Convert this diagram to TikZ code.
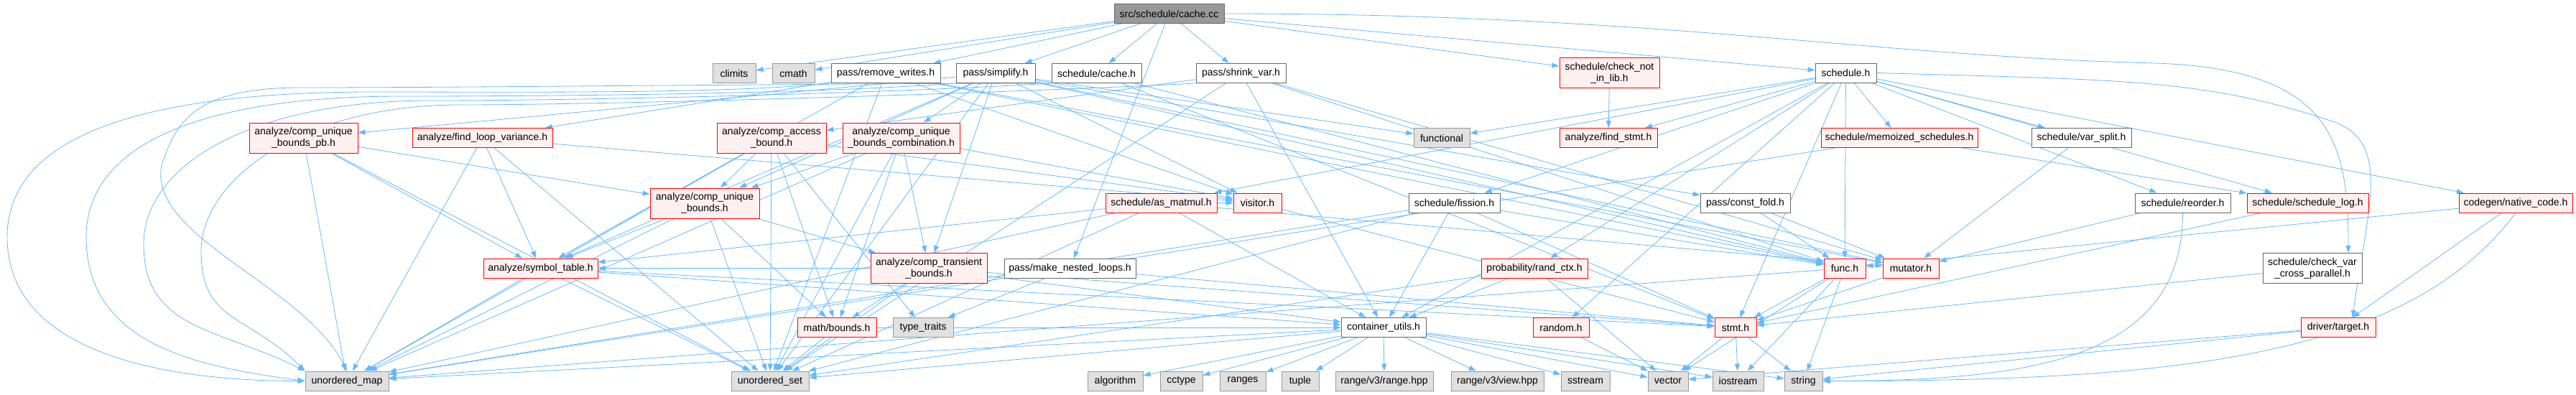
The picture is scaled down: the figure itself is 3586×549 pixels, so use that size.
\documentclass[tikz,border=0pt]{standalone}
\usepackage{fontspec}
\setmainfont{Liberation Sans}
\usetikzlibrary{arrows.meta}
\definecolor{edgecol}{HTML}{63B8FF}
\definecolor{sysfill}{HTML}{E0E0E0}
\definecolor{sysborder}{HTML}{999999}
\definecolor{wborder}{HTML}{666666}
\definecolor{rootfill}{HTML}{999999}
\definecolor{redfill}{HTML}{FFF0F0}
\definecolor{redborder}{HTML}{FF0000}
\pgfdeclarelayer{bg}
\pgfsetlayers{bg,main}
\tikzset{
  box/.style={rectangle, draw, line width=1pt, inner sep=1pt, minimum height=27pt, align=center, font=\fontsize{14}{16}\selectfont, text=black},
  sysbox/.style={box, draw=sysborder, fill=sysfill},
  whitebox/.style={box, draw=wborder, fill=white},
  redbox/.style={box, draw=redborder, fill=redfill},
  rootbox/.style={box, draw=wborder, fill=rootfill},
  tall/.style={minimum height=42pt},
  edge/.style={draw=edgecol, line width=0.8pt, -{Triangle[length=10pt,width=7pt]}},
}
\begin{document}
\begin{tikzpicture}[x=1pt,y=-1pt]
\useasboundingbox (0,0) rectangle (3586,549);
% row 0
\node[rootbox, minimum width=153pt] (root) at (1627.5,19) {src/schedule/cache.cc};
% row 1
\node[sysbox, minimum width=60pt] (climits) at (1022,102) {climits};
\node[sysbox, minimum width=59pt] (cmath) at (1104.5,102) {cmath};
\node[whitebox, minimum width=152pt] (rw) at (1233,102) {pass/remove\_writes.h};
\node[whitebox, minimum width=110pt] (simp) at (1386,102) {pass/simplify.h};
\node[whitebox, minimum width=125pt] (scache) at (1526.5,102) {schedule/cache.h};
\node[whitebox, minimum width=125pt] (shrink) at (1727.5,102) {pass/shrink\_var.h};
\node[redbox, tall, minimum width=139pt] (cnil) at (2240.5,101.5) {schedule/check\_not\\\_in\_lib.h};
\node[whitebox, minimum width=85pt] (sched) at (2569.5,101.5) {schedule.h};
% row 2
\node[redbox, tall, minimum width=151pt] (cubpb) at (422.5,192) {analyze/comp\_unique\\\_bounds\_pb.h};
\node[redbox, minimum width=195pt] (flv) at (671.5,192) {analyze/find\_loop\_variance.h};
\node[redbox, tall, minimum width=152pt] (compaccess) at (1074,192) {analyze/comp\_access\\\_bound.h};
\node[redbox, tall, minimum width=163pt] (cubcomb) at (1254.5,192) {analyze/comp\_unique\\\_bounds\_combination.h};
\node[sysbox, minimum width=78pt] (functional) at (2007,192) {functional};
\node[redbox, minimum width=136pt] (findstmt) at (2239,192) {analyze/find\_stmt.h};
\node[redbox, minimum width=218pt] (memo) at (2644,192) {schedule/memoized\_schedules.h};
\node[whitebox, minimum width=139pt] (varsplit) at (2897.5,192) {schedule/var\_split.h};
% row 3
\node[redbox, tall, minimum width=152pt] (cub) at (981,283) {analyze/comp\_unique\\\_bounds.h};
\node[redbox, minimum width=155pt] (asmatmul) at (1616.5,282.5) {schedule/as\_matmul.h};
\node[redbox, minimum width=67pt] (visitor) at (1750.5,282.5) {visitor.h};
\node[whitebox, minimum width=127pt] (fission) at (2024.5,282.5) {schedule/fission.h};
\node[whitebox, minimum width=125pt] (constfold) at (2429.5,282.5) {pass/const\_fold.h};
\node[whitebox, minimum width=133pt] (reorder) at (3038.5,282.5) {schedule/reorder.h};
\node[redbox, minimum width=169pt] (schedlog) at (3212.5,282.5) {schedule/schedule\_log.h};
\node[redbox, minimum width=158pt] (nativecode) at (3502,282.5) {codegen/native\_code.h};
% row 4
\node[redbox, minimum width=159pt] (symtab) at (752.5,373.5) {analyze/symbol\_table.h};
\node[redbox, tall, minimum width=162pt] (ctb) at (1293,373.5) {analyze/comp\_transient\\\_bounds.h};
\node[whitebox, minimum width=183pt] (mnl) at (1489.5,373.5) {pass/make\_nested\_loops.h};
\node[redbox, minimum width=148pt] (randctx) at (2136,373.5) {probability/rand\_ctx.h};
\node[redbox, minimum width=58pt] (func) at (2568,373.5) {func.h};
\node[redbox, minimum width=78pt] (mutator) at (2660,373.5) {mutator.h};
\node[whitebox, tall, minimum width=138pt] (cvcp) at (3219,373.5) {schedule/check\_var\\\_cross\_parallel.h};
% row 5
\node[redbox, minimum width=110pt] (mathbounds) at (1165,456) {math/bounds.h};
\node[sysbox, minimum width=84pt] (typetraits) at (1285,456) {type\_traits};
\node[whitebox, minimum width=118pt] (cu) at (1926,456) {container\_utils.h};
\node[redbox, minimum width=78pt] (random) at (2173,456) {random.h};
\node[redbox, minimum width=58pt] (stmt) at (2416,456) {stmt.h};
\node[redbox, minimum width=104pt] (target) at (3255,456) {driver/target.h};
% row 6
\node[sysbox, minimum width=116pt] (umap) at (483,530.5) {unordered\_map};
\node[sysbox, minimum width=108pt] (uset) at (1072,530.5) {unordered\_set};
\node[sysbox, minimum width=77pt] (algorithm) at (1552.5,530.5) {algorithm};
\node[sysbox, minimum width=59pt] (cctype) at (1644.5,530.5) {cctype};
\node[sysbox, minimum width=64pt] (ranges) at (1730,530.5) {ranges};
\node[sysbox, minimum width=52pt] (tuple) at (1810,530.5) {tuple};
\node[sysbox, minimum width=136pt] (rangehpp) at (1927,530.5) {range/v3/range.hpp};
\node[sysbox, minimum width=129pt] (viewhpp) at (2084.5,530.5) {range/v3/view.hpp};
\node[sysbox, minimum width=68pt] (sstream) at (2207,530.5) {sstream};
\node[sysbox, minimum width=56pt] (vector) at (2322,530.5) {vector};
\node[sysbox, minimum width=71pt] (iostream) at (2419.5,530.5) {iostream};
\node[sysbox, minimum width=53pt] (string) at (2510.5,530.5) {string};
% bend points of the long arcs
\coordinate (wa1) at (520,128);
\coordinate (wa2) at (10,330);
\coordinate (wb1) at (560,134);
\coordinate (wb2) at (120,330);
\coordinate (wc1) at (600,140);
\coordinate (wc2) at (200,340);
\coordinate (wd1) at (640,146);
\coordinate (wd2) at (280,350);
\coordinate (we1) at (420,122);
\coordinate (we2) at (225,230);
\coordinate (ea1) at (3000,88);
\coordinate (eb1) at (3250,170);
\begin{pgfonlayer}{bg}
\foreach \a/\b in {
 root/climits, root/cmath, root/rw, root/simp, root/scache, root/shrink, root/mnl, root/cnil, root/sched,
 rw/flv, rw/symtab, rw/func, rw/mutator, rw/visitor, rw/uset,
 simp/cubpb, simp/cubcomb, simp/cub, simp/ctb, simp/constfold, simp/symtab, simp/func, simp/mutator, simp/visitor, simp/functional, simp/uset,
 scache/func, scache/stmt,
 shrink/compaccess, shrink/func, shrink/mutator, shrink/cu, shrink/uset,
 cnil/findstmt,
 sched/functional, sched/findstmt, sched/memo, sched/varsplit, sched/reorder, sched/schedlog, sched/nativecode, sched/func, sched/stmt, sched/randctx, sched/random, sched/fission, sched/asmatmul, sched/cu,
 cubpb/cub, cubpb/symtab, cubpb/umap, cubpb/uset,
 flv/symtab, flv/visitor, flv/umap, flv/uset,
 compaccess/cub, compaccess/mathbounds, compaccess/symtab, compaccess/visitor, compaccess/umap, compaccess/uset, compaccess/typetraits,
 cubcomb/cub, cubcomb/ctb, cubcomb/mathbounds, cubcomb/visitor, cubcomb/umap, cubcomb/uset,
 cub/ctb, cub/symtab, cub/umap, cub/uset, cub/mathbounds,
 asmatmul/symtab, asmatmul/visitor, asmatmul/mutator, asmatmul/cu, asmatmul/umap, asmatmul/uset,
 visitor/stmt,
 fission/cu, fission/stmt, fission/func, fission/umap, fission/uset,
 constfold/func, constfold/mutator,
 memo/schedlog, memo/umap,
 varsplit/mutator,
 reorder/mutator,
 schedlog/stmt,
 nativecode/target, nativecode/func,
 symtab/stmt, symtab/cu, symtab/umap, symtab/uset,
 ctb/mathbounds, ctb/symtab, ctb/cu, ctb/stmt, ctb/uset,
 mnl/typetraits, mnl/stmt,
 randctx/cu, randctx/vector, randctx/uset,
 func/stmt, func/iostream, func/string, func/vector, func/umap,
 mutator/stmt,
 cvcp/stmt,
 mathbounds/uset, mathbounds/cu,
 cu/algorithm, cu/cctype, cu/ranges, cu/tuple, cu/rangehpp, cu/viewhpp, cu/sstream, cu/vector, cu/iostream, cu/string, cu/umap, cu/uset,
 random/vector,
 stmt/vector, stmt/string, stmt/iostream,
 target/string, target/vector}
 { \draw[edge] (\a) -- (\b); }
% long arcs through the left margin
\draw[edge] (rw.south west) .. controls +(-150,15) and +(200,0) .. (wa1) .. controls +(-350,0) and +(0,-130) .. (wa2) .. controls +(0,160) and +(-200,0) .. (umap.west);
\draw[edge] (simp.south west) .. controls +(-200,15) and +(200,0) .. (wb1) .. controls +(-300,0) and +(0,-120) .. (wb2) .. controls +(0,150) and +(-150,-20) .. (umap.west);
\draw[edge] (scache.south west) .. controls +(-250,15) and +(200,0) .. (wc1) .. controls +(-250,0) and +(0,-110) .. (wc2) .. controls +(0,120) and +(-120,-60) .. (umap.north west);
\draw[edge] (shrink.south west) .. controls +(-300,15) and +(200,0) .. (wd1) .. controls +(-220,0) and +(0,-100) .. (wd2) .. controls +(0,100) and +(-80,-80) .. (umap.north west);
\draw[edge] (scache.south west) .. controls +(-300,0) and +(250,0) .. (we1) .. controls +(-150,0) and +(20,-60) .. (we2) .. controls +(-20,100) and +(-60,-120) .. (umap.north);
% long arcs on the right
\draw[edge] (root.east) .. controls +(600,0) and +(-400,-10) .. (ea1) .. controls +(250,8) and +(0,-150) .. ([xshift=50pt]cvcp.north);
\draw[edge] (sched.east) .. controls +(350,10) and +(-180,-60) .. (eb1) .. controls +(80,30) and +(20,-150) .. ([xshift=20pt]target.north);
\draw[edge] (reorder.south) .. controls +(0,200) and +(300,0) .. (string.east);
\draw[edge] (nativecode.south) .. controls +(-150,200) and +(500,0) .. (string.east);
\end{pgfonlayer}
\end{tikzpicture}
\end{document}
